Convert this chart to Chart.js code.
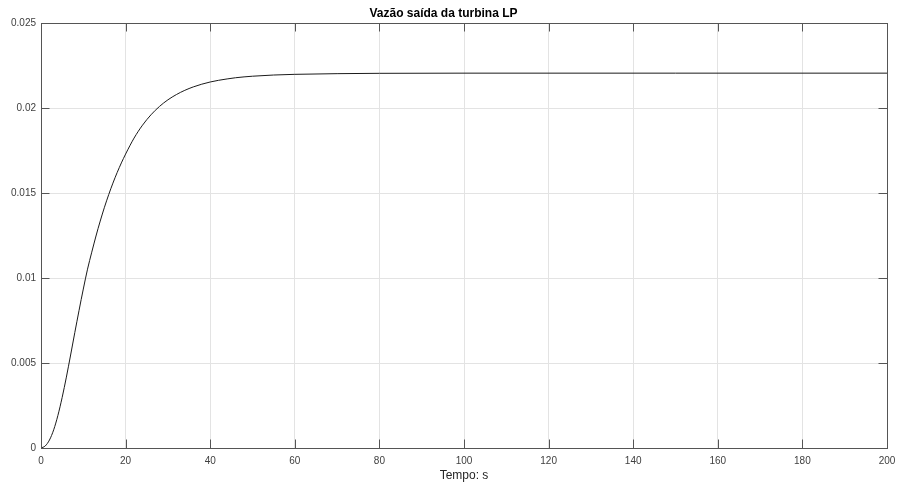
<!DOCTYPE html>
<html>
<head>
<meta charset="utf-8">
<title>Vazão saída da turbina LP</title>
<script src="https://cdn.jsdelivr.net/npm/chart.js@4/dist/chart.umd.min.js"></script>
<style>
  html, body { margin: 0; padding: 0; background: #ffffff; }
  #wrap { width: 897px; height: 486px; }
</style>
</head>
<body>
<div id="wrap"><canvas id="chart" width="897" height="486"></canvas></div>
<script>
// Simulated time (s) and LP turbine outlet flow
const timeSeconds = [0, 1, 2, 3, 4, 5, 6, 7, 8, 9, 10, 11, 12, 13, 14, 15, 16, 17, 18, 19, 20,
  22, 24, 26, 28, 30, 32, 34, 36, 38, 40, 42, 44, 46, 48, 50, 55, 60, 70, 80, 100, 150, 200];
const outletFlow = [0, 0.00012, 0.00047, 0.00107, 0.00192, 0.00297, 0.00417, 0.00547, 0.0068,
  0.0081, 0.00935, 0.01052, 0.01152, 0.01247, 0.01335, 0.01416, 0.0149, 0.01558, 0.0162,
  0.01677, 0.01729, 0.01823, 0.01899, 0.0196, 0.02009, 0.02048, 0.02079, 0.02104, 0.02124,
  0.0214, 0.02153, 0.02163, 0.02171, 0.02178, 0.02183, 0.02187, 0.02194, 0.02198, 0.02202,
  0.02204, 0.02205, 0.02205, 0.02205];

// Axis ticks
const xTickValues = [0, 20, 40, 60, 80, 100, 120, 140, 160, 180, 200];
const yTickValues = [0, 0.005, 0.01, 0.015, 0.02, 0.025];
const yTickLabels = ['0', '0.005', '0.01', '0.015', '0.02', '0.025'];

const FONT = "'Liberation Sans', Arial, Helvetica, sans-serif";
const AXIS_COLOR = '#555555';
const TICK_LEN = 8.5;

// Box around the plot area with inward tick marks on all four sides
const boxPlugin = {
  id: 'boxTicks',
  afterDatasetsDraw(chart) {
    const { ctx, chartArea: a, scales } = chart;
    const al = v => Math.round(v) + 0.5;
    ctx.save();
    ctx.strokeStyle = AXIS_COLOR;
    ctx.lineWidth = 1;
    ctx.beginPath();
    xTickValues.forEach(v => {
      const px = al(scales.x.getPixelForValue(v));
      ctx.moveTo(px, a.bottom); ctx.lineTo(px, a.bottom - TICK_LEN);
      ctx.moveTo(px, a.top); ctx.lineTo(px, a.top + TICK_LEN);
    });
    yTickValues.forEach(v => {
      const py = al(scales.y.getPixelForValue(v));
      ctx.moveTo(a.left, py); ctx.lineTo(a.left + TICK_LEN, py);
      ctx.moveTo(a.right, py); ctx.lineTo(a.right - TICK_LEN, py);
    });
    ctx.stroke();
    ctx.strokeRect(al(a.left), al(a.top), Math.round(a.right) - Math.round(a.left), Math.round(a.bottom) - Math.round(a.top));
    ctx.restore();
  }
};

new Chart(document.getElementById('chart'), {
  type: 'line',
  data: {
    datasets: [{
      data: timeSeconds.map((t, i) => ({ x: t, y: outletFlow[i] })),
      borderColor: '#1a1a1a',
      borderWidth: 1,
      pointRadius: 0,
      fill: false,
      cubicInterpolationMode: 'monotone'
    }]
  },
  options: {
    responsive: false,
    animation: false,
    layout: { padding: { left: 0, right: 10, top: 0, bottom: 0 } },
    plugins: {
      legend: { display: false },
      tooltip: { enabled: false },
      title: {
        display: true,
        text: 'Vazão saída da turbina LP',
        color: '#000000',
        font: { family: FONT, size: 12, weight: 'bold', lineHeight: 1.2 },
        padding: { top: 6, bottom: 2.6 }
      }
    },
    scales: {
      x: {
        type: 'linear',
        min: 0,
        max: 200,
        afterBuildTicks(scale) { scale.ticks = xTickValues.map(v => ({ value: v })); },
        afterFit(scale) {
          scale.height = 38;
          scale.paddingLeft = 0;
          scale.paddingRight = 0;
        },
        grid: { color: '#e3e3e3', drawTicks: false },
        border: { display: false },
        ticks: {
          color: '#404040',
          padding: 7,
          maxRotation: 0,
          font: { family: FONT, size: 10 },
          callback: v => String(v)
        },
        title: {
          display: true,
          text: 'Tempo: s',
          color: '#262626',
          font: { family: FONT, size: 12 },
          padding: { top: 0, bottom: 3 }
        }
      },
      y: {
        min: 0,
        max: 0.025,
        afterBuildTicks(scale) { scale.ticks = yTickValues.map(v => ({ value: v })); },
        afterFit(scale) { scale.width = 41; },
        grid: { color: '#e3e3e3', drawTicks: false },
        border: { display: false },
        ticks: {
          color: '#404040',
          padding: 5,
          font: { family: FONT, size: 10 },
          callback: (v) => {
            const i = yTickValues.findIndex(t => Math.abs(t - v) < 1e-9);
            return i >= 0 ? yTickLabels[i] : '';
          }
        }
      }
    }
  },
  plugins: [boxPlugin]
});
</script>
</body>
</html>
